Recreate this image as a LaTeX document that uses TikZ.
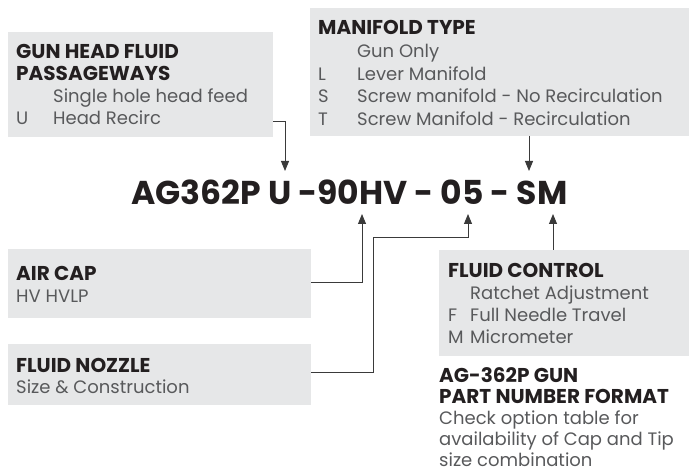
\documentclass[tikz,border=0pt]{standalone}
\usepackage{fontspec}
\setmainfont{Poppins}
\usetikzlibrary{arrows.meta}
\definecolor{boxgray}{HTML}{E6E7E8}
\definecolor{headc}{HTML}{231F20}
\definecolor{bodyc}{HTML}{58595B}
\definecolor{linec}{HTML}{3A3A3A}
\tikzset{
  panel/.style={fill=boxgray, draw=none},
  head/.style={anchor=base west, inner sep=0pt, text=headc, font=\fontsize{20}{24}\selectfont\bfseries},
  body/.style={anchor=base west, inner sep=0pt, text=bodyc, font=\fontsize{18}{22}\selectfont},
  code/.style={anchor=base west, inner sep=0pt, text=headc, font=\fontsize{33}{40}\selectfont\bfseries},
  conn/.style={draw=linec, line width=0.9pt},
  arr/.style={conn, -{Triangle[length=10pt,width=8pt]}},
}
\begin{document}
\begin{tikzpicture}[x=1pt,y=-1pt]
\useasboundingbox (0,0) rectangle (691,473);
% panels
\path[panel] (8,32) rectangle (273,137); \coordinate (gunR) at (273,121);
\path[panel] (310,8) rectangle (689,136); \coordinate (manB) at (529,136);
\path[panel] (8,249) rectangle (311,318); \coordinate (capR) at (311,282);
\path[panel] (8,344) rectangle (311,405); \coordinate (nozR) at (311,372);
\path[panel] (439,250) rectangle (689,356); \coordinate (fcT) at (553,250);
% gun head text
\node[head] (gh1) at (16,59) {GUN HEAD FLUID};
\node[head] (gh2) at (16,81) {PASSAGEWAYS};
\node[body] (gh3) at (53,103) {Single hole head feed};
\node[body] (gh4) at (16,125) {U};
\node[body] (gh5) at (53,125) {Head Recirc};
% manifold text
\node[head] (mt1) at (318,35) {MANIFOLD TYPE};
\node[body] (mt2) at (357,58) {Gun Only};
\node[body] (mt3) at (318,81) {L};
\node[body] (mt4) at (357,81) {Lever Manifold};
\node[body] (mt5) at (318,103) {S};
\node[body] (mt6) at (357,103) {Screw manifold - No Recirculation};
\node[body] (mt7) at (318,126) {T};
\node[body] (mt8) at (357,126) {Screw Manifold - Recirculation};
% code
\node[code] (code) at (131,205) {AG362P U -90HV - 05 - SM};
% air cap
\node[head] (ac1) at (16,280) {AIR CAP};
\node[body] (ac2) at (16,302) {HV HVLP};
% nozzle
\node[head] (fn1) at (16,372) {FLUID NOZZLE};
\node[body] (fn2) at (16,393) {Size \& Construction};
% fluid control
\node[head] (fc1) at (448,277) {FLUID CONTROL};
\node[body] (fc2) at (470,299) {Ratchet Adjustment};
\node[body] (fc3) at (448,321) {F};
\node[body] (fc4) at (470,321) {Full Needle Travel};
\node[body] (fc5) at (448,343) {M};
\node[body] (fc6) at (470,343) {Micrometer};
% format note
\node[head] (pn1) at (439,382) {AG-362P GUN};
\node[head] (pn2) at (439,403) {PART NUMBER FORMAT};
\node[body] (pn3) at (439,424) {Check option table for};
\node[body] (pn4) at (439,445) {availability of Cap and Tip};
\node[body] (pn5) at (439,466) {size combination};
% arrow targets
\coordinate (tU) at (285,171);
\coordinate (tS) at (529,171);
\coordinate (tV) at (362,214);
\coordinate (t05) at (468,214);
\coordinate (tM) at (553,214);
% connectors
\draw[arr] (gunR) -| (tU);
\draw[arr] (manB) -- (tS);
\draw[arr] (capR) -| (tV);
\draw[arr] (nozR) -| (373,237) -| (t05);
\draw[arr] (fcT) -- (tM);
\end{tikzpicture}
\end{document}
